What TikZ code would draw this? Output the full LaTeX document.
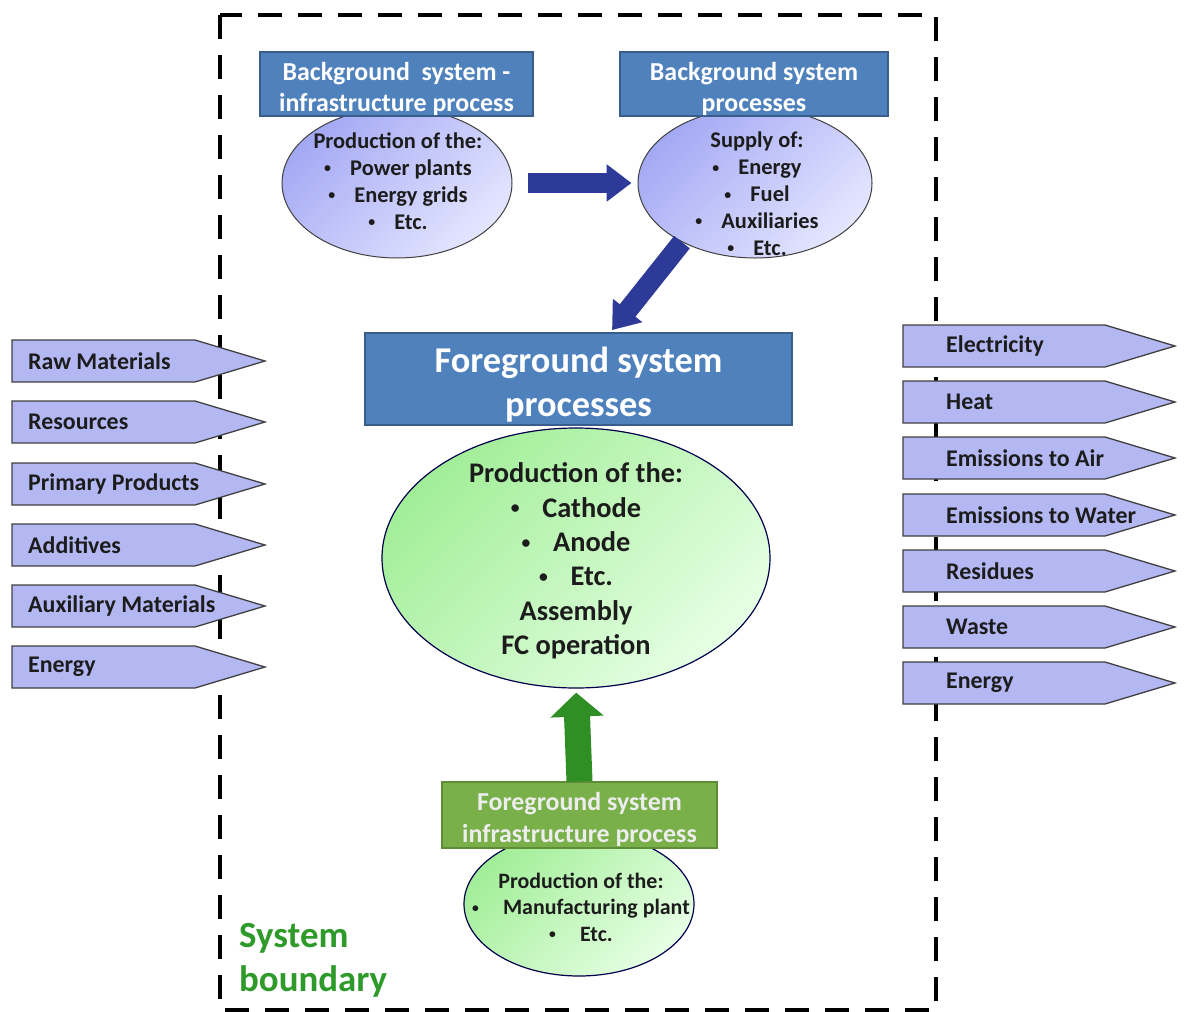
\documentclass[tikz,border=0pt]{standalone}
\usepackage{fontspec}
\usepackage{graphicx}
\setmainfont{Carlito}
\usetikzlibrary{arrows.meta,shapes.geometric,calc}

\definecolor{hdrblue}{HTML}{4F81BD}
\definecolor{hdrline}{HTML}{385D8A}
\definecolor{flowfill}{HTML}{B3B8F3}
\definecolor{flowline}{HTML}{404040}
\definecolor{ellA}{HTML}{A4A9F4}
\definecolor{ellB}{HTML}{E4E6FF}
\definecolor{grnA}{HTML}{A2EE98}
\definecolor{grnB}{HTML}{E6FFE4}
\definecolor{grnhdr}{HTML}{79B04A}
\definecolor{grnhdrline}{HTML}{5E8C37}
\definecolor{navy}{HTML}{2E3A98}
\definecolor{arrgreen}{HTML}{2F8E24}
\definecolor{boundgreen}{HTML}{2E9A2A}
\definecolor{labeltext}{HTML}{1C1C1C}

% small list bullet
\newcommand\lbul{\raisebox{0.12em}{\scalebox{0.62}{\textbullet}}}

\tikzset{
  boundary/.style={draw=black, line width=4bp, dash pattern=on 24bp off 16bp},
  hdrbox/.style={rectangle, draw=hdrline, line width=1.2bp, fill=hdrblue, inner sep=0pt},
  hdrtext/.style={text=white, align=center, inner sep=0pt, font=\bfseries\fontsize{26}{31}\selectfont},
  grnbox/.style={rectangle, draw=grnhdrline, line width=1.2bp, fill=grnhdr, inner sep=0pt},
  grntext/.style={text=white!93!black, align=center, inner sep=0pt, font=\bfseries\fontsize{26}{32}\selectfont},
  bgell/.style={ellipse, draw=black!75, line width=1bp, inner sep=0pt,
    top color=ellA, bottom color=ellB, shading angle=45},
  fgell/.style={ellipse, draw=black!70!blue, line width=1.2bp, inner sep=0pt,
    top color=grnA, bottom color=grnB, shading angle=45},
  elltext/.style={align=center, inner sep=0pt, text=labeltext},
  flowshape/.style={draw=flowline, line width=1.3bp, fill=flowfill},
  flowtext/.style={anchor=west, inner sep=0pt, text=labeltext,
    font=\bfseries\fontsize{24}{28}\selectfont},
  bluearrow/.style={draw=navy, line width=20bp, -{Triangle[width=36bp,length=25bp]}},
  greenarrow/.style={draw=arrgreen, line width=26bp, -{Triangle[width=52bp,length=24bp]}},
}

% input and output flow arrows: pentagon outline plus its label
\newcommand\inflow[3]{%
  \draw[flowshape] (12,#2-21) -- (195,#2-21) -- (265,#2) -- (195,#2+21) -- (12,#2+21) -- cycle;
  \node[flowtext] (#1) at (28,#2) {#3};}
\newcommand\outflow[3]{%
  \draw[flowshape] (903,#2-21) -- (1105,#2-21) -- (1175,#2) -- (1105,#2+21) -- (903,#2+21) -- cycle;
  \node[flowtext] (#1) at (946,#2) {#3};}

\begin{document}
\begin{tikzpicture}[x=1bp, y=-1bp]
\useasboundingbox (0,0) rectangle (1187,1012);

% system boundary
\draw[boundary] (220,15) rectangle (936,1010);

% background system
\node[bgell, minimum width=230bp, minimum height=150bp] (bg1) at (397,183) {};
\node[elltext, font=\bfseries\fontsize{22.5}{27}\selectfont] (bg1txt) at (398,181)
  {Production of the:\\ \lbul\hspace{0.85em}Power plants\\ \lbul\hspace{0.85em}Energy grids\\ \lbul\hspace{0.85em}Etc.};
\node[hdrbox, minimum width=273bp, minimum height=64bp] (bg1hdr) at (396.5,84) {};
\node[hdrtext] (bg1hdrtxt) at (396.5,89) {Background\ \ system -\\ infrastructure process};

\node[bgell, minimum width=234bp, minimum height=150bp] (bg2) at (755,183) {};
\node[elltext, font=\bfseries\fontsize{22.5}{27}\selectfont] (bg2txt) at (757,194)
  {Supply of:\\ \lbul\hspace{0.85em}Energy\\ \lbul\hspace{0.85em}Fuel\\ \lbul\hspace{0.85em}Auxiliaries\\ \lbul\hspace{0.85em}Etc.};
\node[hdrbox, minimum width=268bp, minimum height=64bp] (bg2hdr) at (754,84) {};
\node[hdrtext] (bg2hdrtxt) at (754,89) {Background system\\ processes};

\draw[bluearrow, shorten <=15bp, shorten >=6bp] (bg1.east) -- (bg2.west);

% foreground system
\node[hdrbox, minimum width=427bp, minimum height=92bp] (fg) at (578.5,379) {};
\node[hdrtext, font=\bfseries\fontsize{36.5}{44}\selectfont] (fgtxt) at (578.5,385)
  {Foreground system\\ processes};
\draw[bluearrow, shorten >=3bp] (bg2.219) -- ($(fg.north west)!0.574!(fg.north east)$);

\node[fgell, minimum width=388bp, minimum height=260bp] (fgcore) at (576,558) {};
\node[elltext, font=\bfseries\fontsize{28.5}{34.5}\selectfont] (fgcoretxt) at (576,561)
  {Production of the:\\ \lbul\hspace{0.8em}Cathode\\ \lbul\hspace{0.8em}Anode\\ \lbul\hspace{0.8em}Etc.\\ Assembly\\ FC operation};

% foreground infrastructure
\node[fgell, minimum width=230bp, minimum height=144bp] (fginfell) at (579,904) {};
\node[elltext, font=\bfseries\fontsize{22}{26.5}\selectfont] (fginftxt) at (581,907)
  {Production of the:\\ \lbul\hspace{1.1em}Manufacturing plant\\ \lbul\hspace{1.1em}Etc.};
\node[grnbox, minimum width=275bp, minimum height=66bp] (fginf) at (579.5,815) {};
\node[grntext] (fginfhdrtxt) at (579.5,819) {Foreground system\\ infrastructure process};
\draw[greenarrow, shorten >=4bp] (fginf.north) -- (fgcore.south);

% inputs
\inflow{raw}{361}{Raw Materials}
\inflow{res}{422}{Resources}
\inflow{prim}{484}{Primary Products}
\inflow{add}{545}{Additives}
\inflow{aux}{606}{Auxiliary Materials}
\inflow{ein}{667}{Energy}

% outputs
\outflow{elec}{346}{Electricity}
\outflow{heat}{402}{Heat}
\outflow{air}{458}{Emissions to Air}
\outflow{water}{515}{Emissions to Water}
\outflow{resid}{571}{Residues}
\outflow{waste}{627}{Waste}
\outflow{eout}{683}{Energy}

% boundary label
\node[anchor=west, align=left, inner sep=0pt, text=boundgreen,
  font=\bfseries\fontsize{37}{44}\selectfont] (sblabel) at (239,960) {System\\ boundary};
\end{tikzpicture}
\end{document}
